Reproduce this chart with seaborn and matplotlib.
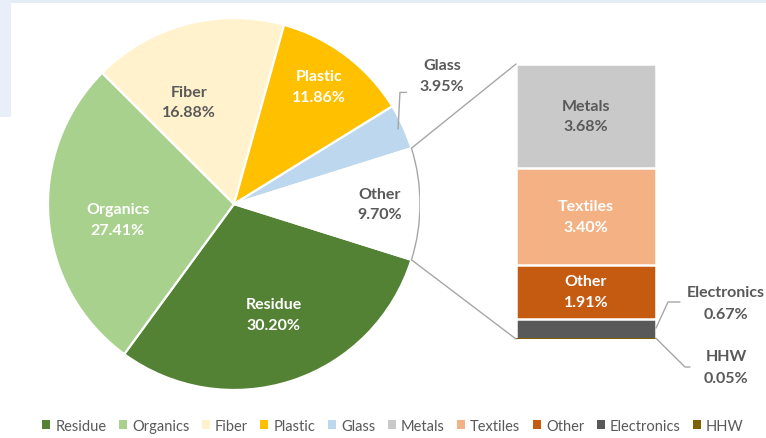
import numpy as np
import pandas as pd
import matplotlib
matplotlib.use("Agg")
import matplotlib.pyplot as plt
from matplotlib.patches import Patch, Arc, Rectangle, ConnectionPatch
import seaborn as sns

# Waste composition: main pie and the breakdown of its "Other" slice
pie_labels = ["Residue", "Organics", "Fiber", "Plastic", "Glass", "Other"]
pie_values = [30.20, 27.41, 16.88, 11.86, 3.95, 9.70]
bar_labels = ["Metals", "Textiles", "Other", "Electronics", "HHW"]
bar_values = [3.68, 3.40, 1.91, 0.67, 0.05]
legend_labels = ["Residue", "Organics", "Fiber", "Plastic", "Glass",
                 "Metals", "Textiles", "Other", "Electronics", "HHW"]

pie_colors = ["#548235", "#a9d18e", "#fff2cc", "#ffc000", "#bdd7ee", "#ffffff"]
bar_colors = ["#c9c9c9", "#f4b183", "#c55a11", "#595959", "#7f6000"]
pie_text_colors = ["white", "white", "#595959", "white", None, "#595959"]
bar_text_colors = ["#595959", "white", "white", None, None]

GRAY = "#595959"
LINE = "#a6a6a6"

sns.set_theme(style="white")
plt.rcParams["font.family"] = ["Lato", "DejaVu Sans"]

W, H = 766, 439
fig = plt.figure(figsize=(W / 100, H / 100), dpi=100)
fig.patch.set_facecolor("white")

# faint page tint along the top and left borders
fig.add_artist(Rectangle((0, 1 - 4 / H), 1, 4 / H, transform=fig.transFigure,
                         color="#e4ecf6", lw=0, zorder=0))
fig.add_artist(Rectangle((0, 1 - 118 / H), 11 / W, 118 / H, transform=fig.transFigure,
                         color="#e9eff8", lw=0, zorder=0))


def px_axes(left, top, width, height):
    return fig.add_axes([left / W, 1 - (top + height) / H, width / W, height / H])


FS = 11.5
lab_font = dict(fontsize=FS, fontweight="bold", ha="center", va="center",
                linespacing=1.6)
one_line = dict(fontsize=FS, fontweight="bold", ha="center", va="center")

# ---- pie ----
cx, cy, R = 234, 205, 186
ax_pie = px_axes(cx - R, cy - R, 2 * R, 2 * R)
other_half = pie_values[-1] / sum(pie_values) * 360 / 2
wedges, _ = ax_pie.pie(pie_values, colors=pie_colors, startangle=-other_half,
                       counterclock=False, radius=1,
                       wedgeprops=dict(edgecolor="white", linewidth=1.6))
ax_pie.set_xlim(-1, 1)
ax_pie.set_ylim(-1, 1)
ax_pie.set_aspect("equal")
ax_pie.axis("off")

# grey outline on the outer arc of the exploded slice
ax_pie.add_patch(Arc((0, 0), 2, 2, theta1=-other_half, theta2=other_half,
                     color=LINE, lw=1.0, zorder=5))

label_radius = [0.63, 0.63, 0.60, 0.78, None, 0.785]
label_shift = [1.5, 3.0, 9.0, 1.0, 0.0, 0.0]
for w, name, val, r, dt, tc in zip(wedges, pie_labels, pie_values,
                                   label_radius, label_shift, pie_text_colors):
    mid = np.deg2rad((w.theta1 + w.theta2) / 2 + dt)
    if r is None:
        # outside label with leader line
        ex, ey = 0.97 * np.cos(mid), 0.97 * np.sin(mid)
        ly = 0.60
        ax_pie.plot([ex, ex + 0.01, ex + 0.045], [ey, ly, ly], color=LINE,
                    lw=1.0, clip_on=False)
        ax_pie.text(1.118, 0.69, f"{name}\n{val:.2f}%", color=GRAY,
                    clip_on=False, **lab_font)
        continue
    ax_pie.text(r * np.cos(mid), r * np.sin(mid), f"{name}\n{val:.2f}%",
                color=tc, **lab_font)

# ---- stacked bar ----
bx, by, bw, bh = 516, 65, 140, 275
ax_bar = px_axes(bx, by, bw, bh)
df = pd.DataFrame({"part": bar_labels, "value": bar_values, "color": bar_colors})
df["top"] = df["value"][::-1].cumsum()[::-1]
total = df["top"].iloc[0]
for _, row in df.iterrows():
    sns.barplot(x=["stack"], y=[row["top"]], color=row["color"], width=1.0,
                saturation=1, edgecolor="white",
                linewidth=0 if row["part"] == "HHW" else 1.8, ax=ax_bar)
ax_bar.set_xlim(-0.5, 0.5)
ax_bar.set_ylim(0, total)
ax_bar.axis("off")

for row, tc in zip(df.itertuples(), bar_text_colors):
    if tc is None:
        continue
    ax_bar.text(0, row.top - row.value / 2, f"{row.part}\n{row.value:.2f}%",
                color=tc, **lab_font)

ppu = bh / total  # pixels per percentage point
ux = 1.0 / bw     # bar-axis units per pixel in x

# Electronics label, leader going up-right
el = df[df["part"] == "Electronics"].iloc[0]
el_y = el.top - el.value / 2
lead_y = 37 / ppu
ax_bar.plot([0.5, 0.5 + 12 * ux, 0.5 + 24 * ux], [el_y, lead_y, lead_y],
            color=LINE, lw=1.0, clip_on=False)
ax_bar.text(0.5 + 70 * ux, 47 / ppu, el.part, color=GRAY, clip_on=False, **one_line)
ax_bar.text(0.5 + 70 * ux, 25 / ppu, f"{el.value:.2f}%", color=GRAY,
            clip_on=False, **one_line)

# HHW label, leader going down-right
hh = df[df["part"] == "HHW"].iloc[0]
hh_y = hh.top - hh.value / 2
low_y = -28 / ppu
ax_bar.plot([0.5, 0.5 + 29 * ux, 0.5 + 34 * ux], [hh_y, low_y, low_y],
            color=LINE, lw=1.0, clip_on=False)
ax_bar.text(0.5 + 70 * ux, -17 / ppu, hh.part, color=GRAY, clip_on=False, **one_line)
ax_bar.text(0.5 + 70 * ux, -39 / ppu, f"{hh.value:.2f}%", color=GRAY,
            clip_on=False, **one_line)

# connector lines from the exploded slice to the bar
a = np.deg2rad(other_half)
for sgn, ytarget in [(1, total), (-1, 0)]:
    con = ConnectionPatch(xyA=(np.cos(a), sgn * np.sin(a)), coordsA=ax_pie.transData,
                          xyB=(-0.5, ytarget), coordsB=ax_bar.transData,
                          color=LINE, lw=1.0)
    fig.add_artist(con)

# ---- legend ----
leg_colors = pie_colors[:5] + bar_colors
handles = [Patch(facecolor=c, edgecolor="none") for c in leg_colors]
fig.legend(handles, legend_labels, loc="center", bbox_to_anchor=(393 / W, 1 - 427 / H),
           ncol=10, frameon=False, handlelength=0.55, handleheight=0.55,
           handletextpad=0.35, columnspacing=0.85, fontsize=10.5, labelcolor=GRAY)

fig.savefig("out.png", dpi=100, facecolor="white")
